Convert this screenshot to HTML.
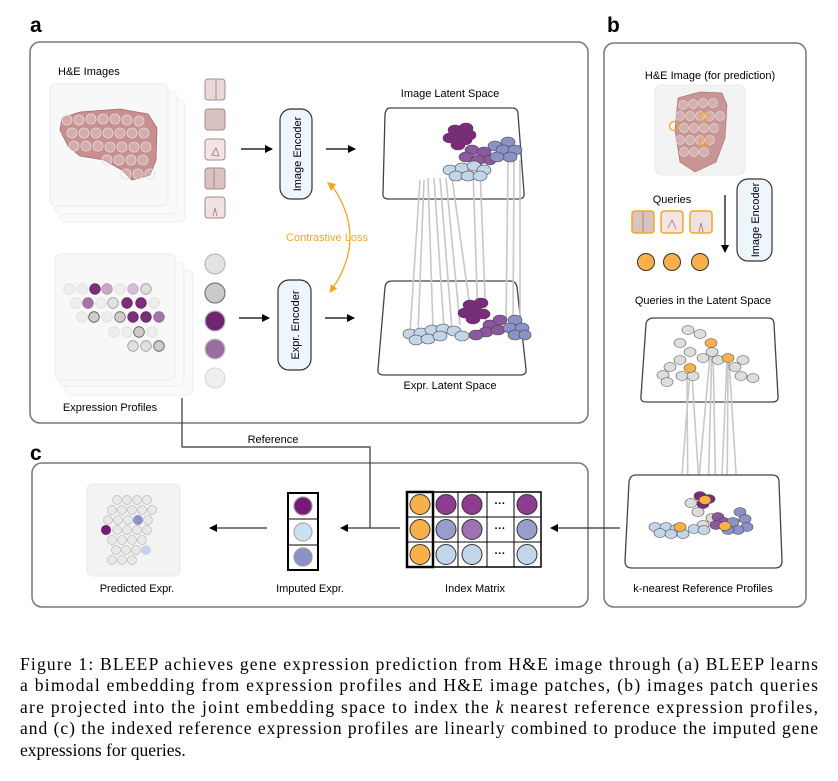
<!DOCTYPE html>
<html><head><meta charset="utf-8"><style>
html,body{margin:0;padding:0;background:#fff}
svg{display:block}
text{font-family:"Liberation Sans",sans-serif}
</style></head><body>
<svg width="838" height="781" viewBox="0 0 838 781" xmlns="http://www.w3.org/2000/svg">
<defs>
<marker id="ar" markerWidth="8" markerHeight="8" refX="7" refY="4" orient="auto" markerUnits="userSpaceOnUse"><path d="M0,0 L8,4 L0,8 Z" fill="#000"/></marker>
<marker id="ao" markerWidth="8" markerHeight="8" refX="7" refY="4" orient="auto" markerUnits="userSpaceOnUse"><path d="M0,0 L8,4 L0,8 Z" fill="#f5a623"/></marker>
</defs>

<text x="30" y="32" font-size="21" font-weight="bold">a</text>
<text x="607" y="32" font-size="21" font-weight="bold">b</text>
<text x="30" y="460" font-size="21" font-weight="bold">c</text>

<rect x="30" y="42" width="558" height="381" rx="10" fill="none" stroke="#777" stroke-width="1.5"/>
<rect x="604" y="43" width="202" height="564" rx="10" fill="none" stroke="#777" stroke-width="1.5"/>
<rect x="32" y="463" width="556" height="144" rx="10" fill="none" stroke="#777" stroke-width="1.5"/>

<text x="58" y="75" font-size="11">H&amp;E Images</text>
<rect x="60" y="100" width="125" height="122" rx="6" fill="#fafafa" stroke="#eee"/>
<rect x="55" y="92" width="122" height="122" rx="6" fill="#fafafa" stroke="#eee"/>
<rect x="50" y="84" width="118" height="122" rx="6" fill="#f8f8f8" stroke="#eaeaea"/>
<path d="M62,118 L80,112 L120,109 L148,114 L157,128 L156,160 L150,175 L132,180 L122,170 L104,160 L80,156 L68,146 L60,130 Z" fill="#c98f8f" stroke="#a86c6c" stroke-width="0.8"/>
<g fill="#ffffff" fill-opacity="0.25" stroke="#ddd" stroke-width="0.8">
<circle cx="67" cy="120" r="5"/><circle cx="79" cy="120" r="5"/><circle cx="91" cy="119" r="5"/><circle cx="103" cy="119" r="5"/><circle cx="115" cy="119" r="5"/><circle cx="127" cy="120" r="5"/><circle cx="139" cy="121" r="5"/>
<circle cx="72" cy="133" r="5"/><circle cx="84" cy="133" r="5"/><circle cx="96" cy="133" r="5"/><circle cx="108" cy="133" r="5"/><circle cx="120" cy="133" r="5"/><circle cx="132" cy="133" r="5"/><circle cx="144" cy="133" r="5"/>
<circle cx="74" cy="146" r="5"/><circle cx="86" cy="146" r="5"/><circle cx="98" cy="146" r="5"/><circle cx="110" cy="147" r="5"/><circle cx="122" cy="147" r="5"/><circle cx="134" cy="147" r="5"/><circle cx="146" cy="147" r="5"/>
<circle cx="107" cy="160" r="5"/><circle cx="119" cy="160" r="5"/><circle cx="131" cy="160" r="5"/><circle cx="143" cy="160" r="5"/>
<circle cx="126" cy="174" r="5"/><circle cx="138" cy="174" r="5"/><circle cx="150" cy="174" r="5"/>
</g>
<g stroke="#a88" stroke-width="1" fill="#e9dada">
<rect x="205" y="79" width="20" height="21" rx="3"/>
<rect x="205" y="109" width="20" height="21" rx="3" fill="#d8c2c2"/>
<rect x="205" y="139" width="20" height="21" rx="3" fill="#f0e4e4"/>
<rect x="205" y="168" width="20" height="21" rx="3" fill="#d9c3c3"/>
<rect x="205" y="197" width="20" height="21" rx="3" fill="#efe2e2"/>
</g>
<g fill="none" stroke="#b07070" stroke-width="0.8"><path d="M216,80 L216,99"/><path d="M214,169 L214,188"/><path d="M213,216 L215,208 L217,216"/><path d="M212,155 L216,148 L219,156 Z"/></g>

<line x1="241" y1="149" x2="272" y2="149" stroke="#000" stroke-width="1.2" marker-end="url(#ar)"/>
<rect x="280" y="109" width="32" height="90" rx="11" fill="#eef5fb" stroke="#333" stroke-width="1.2"/>
<text transform="translate(301,154) rotate(-90)" text-anchor="middle" font-size="11">Image Encoder</text>
<line x1="326" y1="149" x2="355" y2="149" stroke="#000" stroke-width="1.2" marker-end="url(#ar)"/>

<text x="450" y="97" text-anchor="middle" font-size="11">Image Latent Space</text>
<path d="M390,108 L512,108 Q518,108 518,114 L524,193 Q525,199 518,199 L389,199 Q382,199 383,193 L385,114 Q386,108 390,108 Z" fill="#fff" stroke="#444" stroke-width="1.3"/>

<rect x="65" y="270" width="128" height="125" rx="6" fill="#fafafa" stroke="#eee"/>
<rect x="60" y="262" width="124" height="124" rx="6" fill="#fafafa" stroke="#eee"/>
<rect x="55" y="254" width="120" height="126" rx="6" fill="#f8f8f8" stroke="#eaeaea"/>
<g stroke-width="0.8">
<circle cx="69" cy="289" r="5.3" fill="#eee" stroke="#ddd"/><circle cx="82" cy="289" r="5.3" fill="#eee" stroke="#ddd"/><circle cx="95" cy="289" r="5.3" fill="#7b2f7b" stroke="#6a2a6a"/><circle cx="107" cy="289" r="5.3" fill="#c9a6cc" stroke="#b99"/><circle cx="120" cy="289" r="5.3" fill="#eee" stroke="#ddd"/><circle cx="133" cy="289" r="5.3" fill="#d6bcd9" stroke="#cab"/><circle cx="146" cy="289" r="5.3" fill="#ddd" stroke="#999"/>
<circle cx="76" cy="303" r="5.3" fill="#eee" stroke="#ddd"/><circle cx="88" cy="303" r="5.3" fill="#a474a8" stroke="#96689a"/><circle cx="101" cy="303" r="5.3" fill="#eee" stroke="#ddd"/><circle cx="113" cy="303" r="5.3" fill="#e2e2e2" stroke="#999"/><circle cx="127" cy="303" r="5.3" fill="#7b2f7b" stroke="#6a2a6a"/><circle cx="141" cy="303" r="5.3" fill="#7b2f7b" stroke="#6a2a6a"/><circle cx="154" cy="303" r="5.3" fill="#eee" stroke="#ddd"/>
<circle cx="82" cy="317" r="5.3" fill="#eee" stroke="#ddd"/><circle cx="94" cy="317" r="5.3" fill="#ccc" stroke="#555"/><circle cx="107" cy="317" r="5.3" fill="#eee" stroke="#ddd"/><circle cx="120" cy="317" r="5.3" fill="#ccc" stroke="#666"/><circle cx="133" cy="317" r="5.3" fill="#7b2f7b" stroke="#6a2a6a"/><circle cx="146" cy="317" r="5.3" fill="#7b2f7b" stroke="#6a2a6a"/><circle cx="159" cy="317" r="5.3" fill="#a474a8" stroke="#96689a"/>
<circle cx="114" cy="332" r="5.3" fill="#eee" stroke="#ddd"/><circle cx="127" cy="332" r="5.3" fill="#eee" stroke="#ddd"/><circle cx="139" cy="332" r="5.3" fill="#ccc" stroke="#555"/><circle cx="152" cy="332" r="5.3" fill="#eee" stroke="#ddd"/>
<circle cx="133" cy="346" r="5.3" fill="#e0e0e0" stroke="#999"/><circle cx="146" cy="346" r="5.3" fill="#e0e0e0" stroke="#999"/><circle cx="159" cy="346" r="5.3" fill="#ccc" stroke="#555"/>
</g>
<g stroke-width="1.2">
<circle cx="215" cy="264" r="10" fill="#e3e3e3" stroke="#bbb"/>
<circle cx="215" cy="293" r="10" fill="#cacaca" stroke="#777"/>
<circle cx="215" cy="321" r="10" fill="#6f2470" stroke="#bbb"/>
<circle cx="215" cy="349" r="10" fill="#9a6e9e" stroke="#ccc"/>
<circle cx="215" cy="378" r="10" fill="#efefef" stroke="#ddd"/>
</g>
<text x="110" y="411" text-anchor="middle" font-size="11">Expression Profiles</text>

<line x1="239" y1="318" x2="269" y2="318" stroke="#000" stroke-width="1.2" marker-end="url(#ar)"/>
<rect x="278" y="280" width="33" height="90" rx="11" fill="#eef5fb" stroke="#333" stroke-width="1.2"/>
<text transform="translate(299,325) rotate(-90)" text-anchor="middle" font-size="11">Expr. Encoder</text>
<line x1="325" y1="318" x2="354" y2="318" stroke="#000" stroke-width="1.2" marker-end="url(#ar)"/>

<path d="M330,183 Q370,237 330,292" fill="none" stroke="#f5a623" stroke-width="1.3" marker-end="url(#ao)"/>
<polygon points="327,182 336,184 331,191" fill="#f5a623"/>
<text x="327" y="241" text-anchor="middle" font-size="11" fill="#f5a623">Contrastive Loss</text>

<path d="M392,281 L510,281 Q516,281 517,287 L526,369 Q527,375 520,375 L384,375 Q377,375 378,369 L385,287 Q386,281 392,281 Z" fill="#fff" stroke="#444" stroke-width="1.3"/>
<text x="450" y="389" text-anchor="middle" font-size="11">Expr. Latent Space</text>

<g stroke="#c8c8c8" stroke-width="1.6">
<line x1="420" y1="180" x2="410" y2="333"/><line x1="424" y1="180" x2="418" y2="333"/><line x1="428" y1="178" x2="433" y2="328"/><line x1="434" y1="178" x2="444" y2="328"/><line x1="440" y1="178" x2="452" y2="330"/><line x1="446" y1="178" x2="460" y2="325"/><line x1="452" y1="178" x2="472" y2="322"/><line x1="473" y1="170" x2="478" y2="322"/><line x1="480" y1="168" x2="486" y2="322"/><line x1="508" y1="160" x2="506" y2="325"/><line x1="514" y1="160" x2="513" y2="328"/><line x1="520" y1="160" x2="520" y2="330"/>
</g>

<g stroke="#444" stroke-width="0.6">
<g fill="#7d2a7d"><ellipse cx="455" cy="130" rx="7" ry="5"/><ellipse cx="466" cy="128" rx="7" ry="5"/><ellipse cx="460" cy="135" rx="7" ry="5"/><ellipse cx="450" cy="138" rx="7" ry="5"/><ellipse cx="465" cy="140" rx="7" ry="5"/><ellipse cx="458" cy="145" rx="7" ry="5"/><ellipse cx="470" cy="135" rx="6" ry="5"/></g>
<g fill="#8e58a0"><ellipse cx="472" cy="150" rx="7" ry="5"/><ellipse cx="484" cy="152" rx="7" ry="5"/><ellipse cx="466" cy="157" rx="7" ry="5"/><ellipse cx="478" cy="160" rx="7" ry="5"/><ellipse cx="490" cy="160" rx="6" ry="5"/></g>
<g fill="#8a93c8"><ellipse cx="495" cy="146" rx="7" ry="5"/><ellipse cx="508" cy="142" rx="7" ry="5"/><ellipse cx="503" cy="150" rx="7" ry="5"/><ellipse cx="515" cy="150" rx="7" ry="5"/><ellipse cx="510" cy="157" rx="7" ry="5"/><ellipse cx="497" cy="157" rx="7" ry="5"/></g>
<g fill="#c3d5e8"><ellipse cx="450" cy="170" rx="7" ry="5"/><ellipse cx="462" cy="168" rx="7" ry="5"/><ellipse cx="474" cy="166" rx="7" ry="5"/><ellipse cx="484" cy="170" rx="7" ry="5"/><ellipse cx="456" cy="176" rx="7" ry="5"/><ellipse cx="468" cy="176" rx="7" ry="5"/><ellipse cx="480" cy="176" rx="7" ry="5"/></g>
</g>
<g stroke="#444" stroke-width="0.6">
<g fill="#7d2a7d"><ellipse cx="470" cy="305" rx="7" ry="5"/><ellipse cx="481" cy="303" rx="7" ry="5"/><ellipse cx="475" cy="311" rx="7" ry="5"/><ellipse cx="465" cy="313" rx="7" ry="5"/><ellipse cx="483" cy="314" rx="7" ry="5"/><ellipse cx="473" cy="319" rx="7" ry="5"/></g>
<g fill="#8e58a0"><ellipse cx="490" cy="325" rx="7" ry="5"/><ellipse cx="500" cy="320" rx="7" ry="5"/><ellipse cx="486" cy="332" rx="7" ry="5"/><ellipse cx="498" cy="330" rx="7" ry="5"/><ellipse cx="476" cy="335" rx="7" ry="5"/></g>
<g fill="#8a93c8"><ellipse cx="515" cy="320" rx="7" ry="5"/><ellipse cx="510" cy="328" rx="7" ry="5"/><ellipse cx="522" cy="328" rx="7" ry="5"/><ellipse cx="515" cy="335" rx="7" ry="5"/><ellipse cx="525" cy="335" rx="6" ry="5"/></g>
<g fill="#c3d5e8"><ellipse cx="410" cy="334" rx="7" ry="5"/><ellipse cx="421" cy="333" rx="7" ry="5"/><ellipse cx="432" cy="330" rx="7" ry="5"/><ellipse cx="443" cy="329" rx="7" ry="5"/><ellipse cx="454" cy="331" rx="7" ry="5"/><ellipse cx="416" cy="340" rx="7" ry="5"/><ellipse cx="428" cy="339" rx="7" ry="5"/><ellipse cx="440" cy="336" rx="7" ry="5"/><ellipse cx="462" cy="336" rx="7" ry="5"/></g>
</g>

<polyline points="182,398 182,447 370,447 370,528" fill="none" stroke="#333" stroke-width="1.2"/>
<text x="273" y="443" text-anchor="middle" font-size="11">Reference</text>

<text x="710" y="79" text-anchor="middle" font-size="11">H&amp;E Image (for prediction)</text>
<rect x="655" y="85" width="90" height="90" rx="7" fill="#f3f3f3" stroke="#e8e8e8"/>
<path d="M678,98 L700,92 L722,93 L727,105 L725,138 L716,162 L695,172 L680,162 L675,130 Z" fill="#c99595" stroke="#a77" stroke-width="0.7"/>
<g fill="#fff" fill-opacity="0.25" stroke="#ddd" stroke-width="0.7">
<circle cx="683" cy="105" r="4.5"/><circle cx="693" cy="104" r="4.5"/><circle cx="703" cy="103" r="4.5"/><circle cx="713" cy="103" r="4.5"/>
<circle cx="680" cy="116" r="4.5"/><circle cx="690" cy="116" r="4.5"/><circle cx="700" cy="116" r="4.5"/><circle cx="710" cy="116" r="4.5"/><circle cx="720" cy="116" r="4.5"/>
<circle cx="684" cy="128" r="4.5"/><circle cx="694" cy="128" r="4.5"/><circle cx="704" cy="128" r="4.5"/><circle cx="714" cy="128" r="4.5"/>
<circle cx="680" cy="140" r="4.5"/><circle cx="690" cy="140" r="4.5"/><circle cx="700" cy="140" r="4.5"/><circle cx="710" cy="140" r="4.5"/>
<circle cx="684" cy="152" r="4.5"/><circle cx="694" cy="152" r="4.5"/><circle cx="704" cy="152" r="4.5"/>
</g>
<g fill="none" stroke="#f5a623" stroke-width="1.2"><circle cx="674" cy="126" r="4.5"/><circle cx="704" cy="117" r="4.5"/><circle cx="704" cy="142" r="4.5"/></g>

<text x="672" y="203" text-anchor="middle" font-size="11">Queries</text>
<g stroke="#f5a623" stroke-width="1.5">
<rect x="632" y="211" width="22" height="22" rx="3" fill="#d9c4c4"/>
<rect x="661" y="211" width="22" height="22" rx="3" fill="#f0e4e4"/>
<rect x="690" y="211" width="22" height="22" rx="3" fill="#efe2e2"/>
</g>
<g fill="none" stroke="#b07070" stroke-width="0.8"><path d="M643,212 L643,232"/><path d="M668,228 L672,220 L676,229"/><path d="M699,232 L701,223 L703,232"/></g>
<g fill="#f7b04a" stroke="#333" stroke-width="1"><circle cx="646" cy="262" r="8.5"/><circle cx="672" cy="262" r="8.5"/><circle cx="700" cy="262" r="8.5"/></g>
<line x1="725" y1="195" x2="725" y2="252" stroke="#000" stroke-width="1.2" marker-end="url(#ar)"/>
<rect x="737" y="179" width="35" height="82" rx="11" fill="#eef5fb" stroke="#333" stroke-width="1.2"/>
<text transform="translate(759,220) rotate(-90)" text-anchor="middle" font-size="11">Image Encoder</text>

<text x="703" y="304" text-anchor="middle" font-size="11">Queries in the Latent Space</text>
<path d="M654,318 L768,318 Q774,318 774,324 L778,396 Q779,402 772,402 L646,402 Q640,402 641,396 L646,324 Q647,318 654,318 Z" fill="#fff" stroke="#444" stroke-width="1.3"/>

<g stroke="#c8c8c8" stroke-width="1.6">
<line x1="690" y1="372" x2="678" y2="525"/><line x1="687" y1="375" x2="688" y2="520"/><line x1="692" y1="375" x2="700" y2="500"/><line x1="711" y1="345" x2="697" y2="500"/><line x1="712" y1="345" x2="708" y2="498"/><line x1="713" y1="345" x2="716" y2="515"/><line x1="727" y1="360" x2="720" y2="520"/><line x1="728" y1="360" x2="727" y2="515"/><line x1="729" y1="360" x2="738" y2="505"/>
</g>
<g fill="#ddd" stroke="#555" stroke-width="0.6">
<ellipse cx="688" cy="330" rx="6" ry="4.5"/><ellipse cx="700" cy="334" rx="6" ry="4.5"/><ellipse cx="680" cy="343" rx="6" ry="4.5"/><ellipse cx="690" cy="352" rx="6" ry="4.5"/><ellipse cx="712" cy="352" rx="6" ry="4.5"/><ellipse cx="703" cy="358" rx="6" ry="4.5"/><ellipse cx="680" cy="360" rx="6" ry="4.5"/><ellipse cx="670" cy="367" rx="6" ry="4.5"/><ellipse cx="663" cy="375" rx="6" ry="4.5"/><ellipse cx="667" cy="382" rx="6" ry="4.5"/><ellipse cx="682" cy="376" rx="6" ry="4.5"/><ellipse cx="693" cy="376" rx="6" ry="4.5"/><ellipse cx="718" cy="360" rx="6" ry="4.5"/><ellipse cx="743" cy="360" rx="6" ry="4.5"/><ellipse cx="735" cy="367" rx="6" ry="4.5"/><ellipse cx="741" cy="376" rx="6" ry="4.5"/><ellipse cx="753" cy="378" rx="6" ry="4.5"/>
</g>
<g fill="#f7b04a" stroke="#555" stroke-width="0.6"><ellipse cx="711" cy="343" rx="6" ry="4.5"/><ellipse cx="728" cy="358" rx="6" ry="4.5"/><ellipse cx="690" cy="368" rx="6" ry="4.5"/></g>

<path d="M636,475 L772,475 Q779,475 779,482 L782,561 Q782,568 775,568 L632,568 Q625,568 625,561 L629,482 Q630,475 636,475 Z" fill="#fff" stroke="#444" stroke-width="1.3"/>
<g stroke-width="0.6" stroke="#444">
<g fill="#7d2a7d"><ellipse cx="700" cy="496" rx="6" ry="4.5"/><ellipse cx="709" cy="499" rx="6" ry="4.5"/><ellipse cx="703" cy="504" rx="6" ry="4.5"/></g>
<g fill="#ddd"><ellipse cx="691" cy="503" rx="6" ry="4.5"/><ellipse cx="698" cy="512" rx="6" ry="4.5"/><ellipse cx="712" cy="518" rx="6" ry="4.5"/><ellipse cx="703" cy="525" rx="6" ry="4.5"/></g>
<g fill="#8e58a0"><ellipse cx="718" cy="517" rx="6" ry="4.5"/><ellipse cx="724" cy="522" rx="6" ry="4.5"/><ellipse cx="716" cy="525" rx="6" ry="4.5"/></g>
<g fill="#8a93c8"><ellipse cx="740" cy="512" rx="6" ry="4.5"/><ellipse cx="745" cy="519" rx="6" ry="4.5"/><ellipse cx="733" cy="522" rx="6" ry="4.5"/><ellipse cx="747" cy="527" rx="6" ry="4.5"/><ellipse cx="738" cy="530" rx="6" ry="4.5"/><ellipse cx="728" cy="530" rx="6" ry="4.5"/></g>
<g fill="#c3d5e8"><ellipse cx="655" cy="527" rx="6" ry="4.5"/><ellipse cx="666" cy="527" rx="6" ry="4.5"/><ellipse cx="676" cy="529" rx="6" ry="4.5"/><ellipse cx="660" cy="533" rx="6" ry="4.5"/><ellipse cx="671" cy="534" rx="6" ry="4.5"/><ellipse cx="683" cy="534" rx="6" ry="4.5"/><ellipse cx="694" cy="529" rx="6" ry="4.5"/><ellipse cx="704" cy="530" rx="6" ry="4.5"/></g>
<g fill="#f7b04a"><ellipse cx="705" cy="500" rx="6" ry="4.5"/><ellipse cx="680" cy="527" rx="6" ry="4.5"/><ellipse cx="725" cy="526" rx="6" ry="4.5"/></g>
</g>
<text x="703" y="592" text-anchor="middle" font-size="11">k-nearest Reference Profiles</text>

<line x1="620" y1="528" x2="551" y2="528" stroke="#333" stroke-width="1.2" marker-end="url(#ar)"/>
<rect x="407" y="492" width="134" height="75" fill="#fff" stroke="#000" stroke-width="1.5"/>
<g stroke="#000" stroke-width="1"><line x1="407" y1="517" x2="541" y2="517"/><line x1="407" y1="542" x2="541" y2="542"/><line x1="458" y1="492" x2="458" y2="567"/><line x1="487" y1="492" x2="487" y2="567"/><line x1="514" y1="492" x2="514" y2="567"/><line x1="433" y1="492" x2="433" y2="567"/></g>
<rect x="407" y="492" width="26" height="75" fill="none" stroke="#000" stroke-width="2.5"/>
<g stroke="#333" stroke-width="1">
<circle cx="420" cy="504.5" r="10" fill="#f7b04a"/><circle cx="446" cy="504.5" r="10" fill="#8d3c8f"/><circle cx="472" cy="504.5" r="10" fill="#8d3c8f"/><circle cx="527" cy="504.5" r="10" fill="#8d3c8f"/>
<circle cx="420" cy="529.5" r="10" fill="#f7b04a"/><circle cx="446" cy="529.5" r="10" fill="#9a9dcb"/><circle cx="472" cy="529.5" r="10" fill="#a172b3"/><circle cx="527" cy="529.5" r="10" fill="#9a9dcb"/>
<circle cx="420" cy="554.5" r="10" fill="#f7b04a"/><circle cx="446" cy="554.5" r="10" fill="#c3d5e8"/><circle cx="472" cy="554.5" r="10" fill="#c3d5e8"/><circle cx="527" cy="554.5" r="10" fill="#c3d5e8"/>
</g>
<g font-size="11" font-weight="bold" text-anchor="middle"><text x="500" y="507">···</text><text x="500" y="532">···</text><text x="500" y="557">···</text></g>
<text x="475" y="592" text-anchor="middle" font-size="11">Index Matrix</text>

<line x1="400" y1="528" x2="341" y2="528" stroke="#333" stroke-width="1.2" marker-end="url(#ar)"/>
<rect x="288" y="493" width="30" height="77" fill="#fff" stroke="#000" stroke-width="2"/>
<line x1="288" y1="519" x2="318" y2="519" stroke="#000"/><line x1="288" y1="545" x2="318" y2="545" stroke="#000"/>
<circle cx="303" cy="506" r="9" fill="#7a1a78" stroke="#999" stroke-width="1.2"/>
<circle cx="303" cy="532" r="9" fill="#cde0ef" stroke="#aaa" stroke-width="1.2"/>
<circle cx="303" cy="557" r="9" fill="#8a93c8" stroke="#999" stroke-width="1.2"/>
<text x="310" y="592" text-anchor="middle" font-size="11">Imputed Expr.</text>

<line x1="267" y1="528" x2="210" y2="528" stroke="#333" stroke-width="1.2" marker-end="url(#ar)"/>
<rect x="87" y="484" width="93" height="92" rx="6" fill="#f3f3f3" stroke="#e8e8e8"/>
<g fill="#e8e8e8" stroke="#bbb" stroke-width="0.7">
<circle cx="117" cy="500" r="4.5"/><circle cx="127" cy="500" r="4.5"/><circle cx="137" cy="500" r="4.5"/><circle cx="147" cy="500" r="4.5"/>
<circle cx="112" cy="510" r="4.5"/><circle cx="122" cy="510" r="4.5"/><circle cx="132" cy="510" r="4.5"/><circle cx="142" cy="510" r="4.5"/><circle cx="152" cy="510" r="4.5"/>
<circle cx="108" cy="520" r="4.5"/><circle cx="118" cy="520" r="4.5"/><circle cx="128" cy="520" r="4.5"/><circle cx="148" cy="520" r="4.5"/>
<circle cx="117" cy="530" r="4.5"/><circle cx="127" cy="530" r="4.5"/><circle cx="137" cy="530" r="4.5"/><circle cx="147" cy="530" r="4.5"/>
<circle cx="112" cy="540" r="4.5"/><circle cx="122" cy="540" r="4.5"/><circle cx="132" cy="540" r="4.5"/><circle cx="142" cy="540" r="4.5"/>
<circle cx="116" cy="550" r="4.5"/><circle cx="126" cy="550" r="4.5"/><circle cx="136" cy="550" r="4.5"/>
<circle cx="112" cy="560" r="4.5"/><circle cx="122" cy="560" r="4.5"/><circle cx="132" cy="560" r="4.5"/>
</g>
<circle cx="138" cy="520" r="4.5" fill="#8a93c8" stroke="#8a93c8"/>
<circle cx="106" cy="530" r="4.5" fill="#7a1a78" stroke="#7a1a78"/>
<circle cx="146" cy="550" r="4.5" fill="#c3d5e8" stroke="#c3d5e8"/>
<text x="137" y="592" text-anchor="middle" font-size="11">Predicted Expr.</text>

<g font-size="17.5" fill="#000">
<text x="20" y="670" textLength="798" lengthAdjust="spacing" style="font-family:'Liberation Serif',serif">Figure 1: BLEEP achieves gene expression prediction from H&amp;E image through (a) BLEEP learns</text>
<text x="20" y="691" textLength="798" lengthAdjust="spacing" style="font-family:'Liberation Serif',serif">a bimodal embedding from expression profiles and H&amp;E image patches, (b) images patch queries</text>
<text x="20" y="713" textLength="798" lengthAdjust="spacing" style="font-family:'Liberation Serif',serif">are projected into the joint embedding space to index the <tspan font-style="italic">k</tspan> nearest reference expression profiles,</text>
<text x="20" y="734" textLength="798" lengthAdjust="spacing" style="font-family:'Liberation Serif',serif">and (c) the indexed reference expression profiles are linearly combined to produce the imputed gene</text>
<text x="20" y="756" style="font-family:'Liberation Serif',serif">expressions for queries.</text>
</g>
</svg>
</body></html>
